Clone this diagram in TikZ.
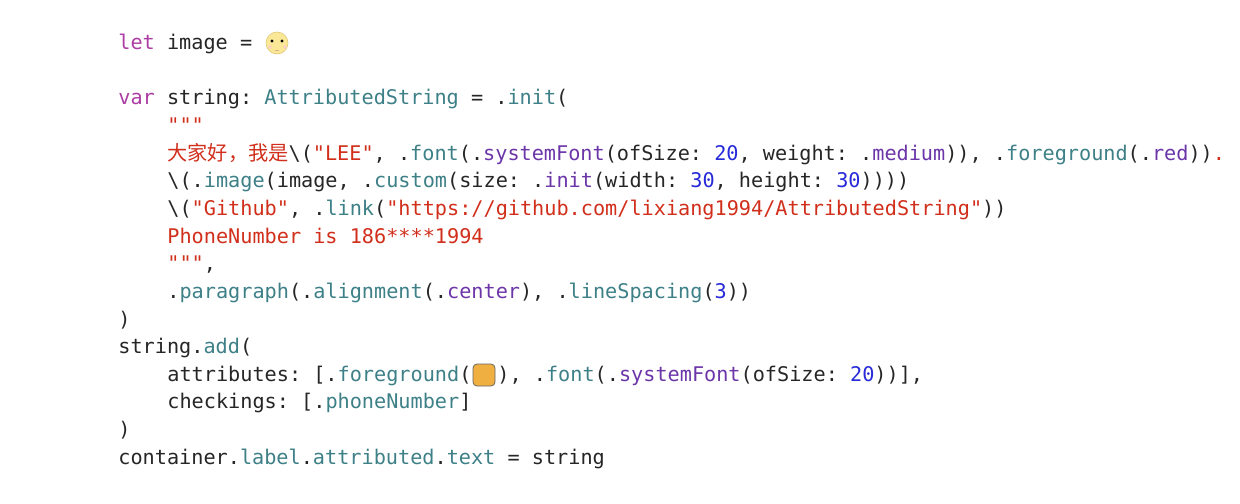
\documentclass[tikz,border=0pt]{standalone}
\usepackage{fontspec}
\setmonofont{DejaVu Sans Mono}
\newfontfamily\cjk{Noto Sans CJK SC}
\definecolor{kw}{HTML}{AD3DA4}
\definecolor{ty}{HTML}{3E8087}
\definecolor{st}{HTML}{D12F1B}
\definecolor{nu}{HTML}{272AD8}
\definecolor{pu}{HTML}{6C36A9}
\definecolor{tx}{HTML}{262626}
\newcommand{\cK}[1]{\textcolor{kw}{#1}}
\newcommand{\cT}[1]{\textcolor{ty}{#1}}
\newcommand{\cS}[1]{\textcolor{st}{#1}}
\newcommand{\cN}[1]{\textcolor{nu}{#1}}
\newcommand{\cP}[1]{\textcolor{pu}{#1}}
\newcommand{\qq}{\char34}
\newcommand{\bsl}{\char92}
\tikzset{codeline/.style={anchor=base west,inner sep=0pt,font=\ttfamily\fontsize{10.1}{12}\selectfont,text=tx}}
\begin{document}
\begin{tikzpicture}[x=0.5pt,y=-0.5pt]
\useasboundingbox[fill=white] (0,0) rectangle (1240,503);
\def\lx{118}\def\ix{167}
\newcommand{\codeL}[3]{\node[codeline] (l#1) at (#2,{49.5+27.65*#1}) {#3};}
\codeL{0}{\lx}{\cK{let} image = }
\codeL{2}{\lx}{\cK{var} string: \cT{AttributedString} = .\cT{init}(}
\codeL{3}{\ix}{\cS{\qq\qq\qq}}
\codeL{4}{\ix}{\cS{{\cjk 大家好，我是}}\bsl(\cS{\qq LEE\qq}, .\cT{font}(.\cP{systemFont}(ofSize: \cN{20}, weight: .\cP{medium})), .\cT{foreground}(.\cP{red}))\cS{.}}
\codeL{5}{\ix}{\bsl(.\cT{image}(image, .\cT{custom}(size: .\cP{init}(width: \cN{30}, height: \cN{30}))))}
\codeL{6}{\ix}{\bsl(\cS{\qq Github\qq}, .\cT{link}(\cS{\qq https://github.com/lixiang1994/AttributedString\qq}))}
\codeL{7}{\ix}{\cS{PhoneNumber is 186****1994}}
\codeL{8}{\ix}{\cS{\qq\qq\qq},}
\codeL{9}{\ix}{.\cT{paragraph}(.\cT{alignment}(.\cP{center}), .\cT{lineSpacing}(\cN{3}))}
\codeL{10}{\lx}{)}
\codeL{11}{\lx}{string.\cT{add}(}
\codeL{12}{\ix}{attributes: [.\cT{foreground}(\hspace{13pt}), .\cT{font}(.\cP{systemFont}(ofSize: \cN{20}))],}
\codeL{13}{\ix}{checkings: [.\cT{phoneNumber}]}
\codeL{14}{\lx}{)}
\codeL{15}{\lx}{container.\cT{label}.\cT{attributed}.\cT{text} = string}
\node[circle,minimum size=11pt,inner sep=0pt,fill={rgb,255:red,250;green,232;blue,150},draw={rgb,255:red,225;green,200;blue,120},line width=0.3pt] (face) at (277,43) {};
\fill[black] (272,41) circle (1.7);
\fill[black] (282,41) circle (1.7);
\fill[pink!80] (270,47) circle (1.8);
\fill[pink!80] (285,47) circle (1.8);
\draw[brown!60,line width=0.4pt] (275,50) -- (279,50);
\node[rounded corners=2pt,minimum width=11pt,minimum height=11pt,inner sep=0pt,fill={rgb,255:red,240;green,176;blue,65},draw=black!60,line width=0.4pt] (box) at (484,375) {};
\end{tikzpicture}
\end{document}
